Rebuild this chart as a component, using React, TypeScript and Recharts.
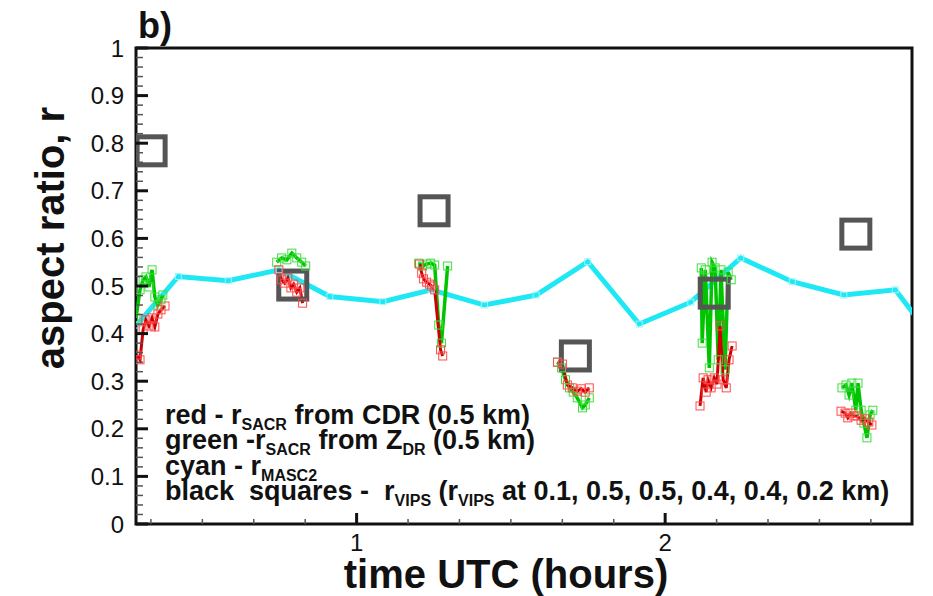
import { ComposedChart, Line, Scatter, XAxis, YAxis, ReferenceArea } from "recharts"

const X_MIN = 0.285
const X_MAX = 2.8
const FONT = "'Liberation Sans', Arial, Helvetica, sans-serif"

// x tick every 10 minutes, labels only on whole hours
const xTicks = [0.3333, 0.5, 0.6667, 0.8333, 1, 1.1667, 1.3333, 1.5, 1.6667, 1.8333, 2, 2.1667, 2.3333, 2.5, 2.6667]
const xLabels = [1, 2]
const yLabels = [0, 0.1, 0.2, 0.3, 0.4, 0.5, 0.6, 0.7, 0.8, 0.9, 1]
const yTicks = Array.from({ length: 51 }, (_, i) => i / 50)

// MASC2 aspect ratio (cyan), [time h, r]
const masc2 = [
  [0.287, 0.418], [0.422, 0.52], [0.584, 0.511], [0.749, 0.534], [0.913, 0.478],
  [1.085, 0.467], [1.242, 0.492], [1.414, 0.46], [1.582, 0.481], [1.749, 0.551],
  [1.916, 0.42], [2.083, 0.466], [2.245, 0.559], [2.412, 0.509], [2.579, 0.481],
  [2.746, 0.492], [2.913, 0.35],
]

// VIPS aspect ratio (grey squares)
const vips = [
  [0.334, 0.784], [0.793, 0.502], [1.251, 0.658], [1.709, 0.353], [2.159, 0.485], [2.618, 0.609],
]

// SACR from CDR (red), one run per radar scan period
const cdrRuns = [
  [[0.288, 0.355], [0.298, 0.345], [0.308, 0.408], [0.317, 0.429], [0.327, 0.416], [0.337, 0.433], [0.346, 0.414], [0.356, 0.441], [0.366, 0.45], [0.379, 0.458]],
  [[0.748, 0.534], [0.757, 0.513], [0.767, 0.506], [0.777, 0.517], [0.787, 0.496], [0.796, 0.504], [0.806, 0.487], [0.816, 0.496], [0.825, 0.464]],
  [[1.204, 0.546], [1.211, 0.527], [1.217, 0.515], [1.227, 0.508], [1.236, 0.504], [1.243, 0.5], [1.253, 0.492], [1.272, 0.366], [1.279, 0.353]],
  [[1.651, 0.34], [1.667, 0.336], [1.683, 0.292], [1.699, 0.286], [1.715, 0.279], [1.728, 0.284], [1.741, 0.277], [1.754, 0.286]],
  [[2.113, 0.248], [2.123, 0.307], [2.133, 0.277], [2.139, 0.303], [2.149, 0.286], [2.159, 0.307], [2.168, 0.294], [2.178, 0.416], [2.188, 0.303], [2.198, 0.286], [2.207, 0.345], [2.217, 0.374]],
  [[2.57, 0.237], [2.583, 0.233], [2.592, 0.223], [2.602, 0.233], [2.612, 0.227], [2.622, 0.227], [2.635, 0.218], [2.647, 0.221], [2.66, 0.214], [2.67, 0.208]],
]

// SACR from ZDR (green)
const zdrRuns = [
  [[0.285, 0.433], [0.298, 0.492], [0.308, 0.513], [0.317, 0.519], [0.327, 0.498], [0.337, 0.534], [0.346, 0.477], [0.356, 0.46], [0.366, 0.471], [0.372, 0.481]],
  [[0.741, 0.55], [0.757, 0.559], [0.774, 0.555], [0.79, 0.569], [0.806, 0.559], [0.822, 0.55], [0.835, 0.542]],
  [[1.201, 0.548], [1.214, 0.542], [1.227, 0.546], [1.24, 0.548], [1.253, 0.544], [1.266, 0.418], [1.275, 0.38], [1.295, 0.542]],
  [[1.651, 0.34], [1.664, 0.328], [1.677, 0.303], [1.69, 0.286], [1.702, 0.277], [1.715, 0.265], [1.732, 0.244], [1.741, 0.25], [1.754, 0.265]],
  [[2.117, 0.538], [2.12, 0.38], [2.13, 0.534], [2.143, 0.328], [2.152, 0.55], [2.162, 0.538], [2.172, 0.345], [2.181, 0.534], [2.194, 0.324], [2.204, 0.529], [2.214, 0.513]],
  [[2.573, 0.286], [2.586, 0.292], [2.596, 0.271], [2.605, 0.296], [2.618, 0.239], [2.625, 0.296], [2.635, 0.239], [2.644, 0.212], [2.654, 0.181], [2.664, 0.229], [2.673, 0.239]],
]

const toPoints = (run: number[][]) => run.map(([t, r]) => ({ t, r }))

const AXIS_GAP = 10
const near = (list: number[], v: number) => list.some((l) => Math.abs(l - v) < 1e-4)

function YTick(props: any) {
  const { x, y, payload } = props
  const ax = x + AXIS_GAP
  const major = near(yLabels, payload.value)
  return (
    <g>
      <line x1={ax} x2={ax + (major ? 12 : 7)} y1={y} y2={y} stroke={major ? "#111" : "#555"} strokeWidth={major ? 3 : 1.5} />
      {major && (
        <text x={ax - 12} y={y} dy="0.36em" textAnchor="end" fontSize={24} fontFamily={FONT} fill="#111">
          {String(Math.round(payload.value * 10) / 10)}
        </text>
      )}
    </g>
  )
}

function XTick(props: any) {
  const { x, y, payload } = props
  const ay = y - AXIS_GAP
  const major = near(xLabels, payload.value)
  return (
    <g>
      <line x1={x} x2={x} y1={ay} y2={ay - (major ? 11 : 5)} stroke={major ? "#111" : "#555"} strokeWidth={major ? 3 : 1.5} />
      {major && (
        <text x={x} y={ay + 27} textAnchor="middle" fontSize={24} fontFamily={FONT} fill="#111">
          {String(payload.value)}
        </text>
      )}
    </g>
  )
}

const boxDot = (color: string, size: number) => (p: any) => {
  if (p.cx == null || p.cy == null) return <g key={p.index} />
  return (
    <rect key={p.index} x={p.cx - size / 2} y={p.cy - size / 2} width={size} height={size} fill="none" stroke={color} strokeWidth={1} />
  )
}

const vipsShape = (p: any) => (
  <rect x={p.cx - 14} y={p.cy - 14} width={28} height={28} fill="none" stroke="#555" strokeWidth={5} />
)

const SUB = 16
const SUB_DY = 6

function Legend() {
  return (
    <g fontFamily={FONT} fontWeight="bold" fontSize={27} fill="#111">
      <text x={165} y={424} xmlSpace="preserve">
        red - r<tspan fontSize={SUB} dy={SUB_DY}>SACR</tspan><tspan dy={-SUB_DY}> from CDR (0.5 km)</tspan>
      </text>
      <text x={165} y={449} xmlSpace="preserve">
        green -r<tspan fontSize={SUB} dy={SUB_DY}>SACR</tspan><tspan dy={-SUB_DY}> from Z</tspan>
        <tspan fontSize={SUB} dy={SUB_DY}>DR</tspan><tspan dy={-SUB_DY}> (0.5 km)</tspan>
      </text>
      <text x={165} y={475} xmlSpace="preserve">
        cyan - r<tspan fontSize={SUB} dy={SUB_DY}>MASC2</tspan>
      </text>
      <text x={165} y={500} xmlSpace="preserve">
        {"black  squares -  r"}<tspan fontSize={SUB} dy={SUB_DY}>VIPS</tspan><tspan dy={-SUB_DY}> (r</tspan>
        <tspan fontSize={SUB} dy={SUB_DY}>VIPS</tspan><tspan dy={-SUB_DY}> at 0.1, 0.5, 0.5, 0.4, 0.4, 0.2 km)</tspan>
      </text>
    </g>
  )
}

export default function App() {
  return (
    <div style={{ position: "absolute", left: 0, top: 0, width: 933, height: 596, background: "#fff" }}>
      <ComposedChart width={933} height={596} margin={{ top: 48, right: 21, bottom: 42, left: 76 }}>
        <XAxis
          type="number"
          dataKey="t"
          domain={[X_MIN, X_MAX]}
          allowDataOverflow
          ticks={xTicks}
          interval={0}
          tickSize={0}
          tickMargin={AXIS_GAP}
          axisLine={false}
          tick={<XTick />}
          height={30}
        />
        <YAxis
          type="number"
          dataKey="r"
          domain={[0, 1]}
          ticks={yTicks}
          interval={0}
          tickSize={0}
          tickMargin={AXIS_GAP}
          axisLine={false}
          tick={<YTick />}
          width={60}
        />
        <ReferenceArea x1={X_MIN} x2={X_MAX} y1={0} y2={1} fill="none" stroke="#111" strokeWidth={3} />
        <Scatter data={toPoints(vips)} dataKey="r" shape={vipsShape} isAnimationActive={false} />
        <Line
          data={toPoints(masc2)}
          dataKey="r"
          stroke="#1de8f4"
          strokeWidth={5}
          dot={boxDot("#9ff4fa", 6)}
          isAnimationActive={false}
        />
        {zdrRuns.map((run, i) => (
          <Line
            key={`zdr${i}`}
            data={toPoints(run)}
            dataKey="r"
            stroke="#00c400"
            strokeWidth={3.5}
            dot={boxDot("#3ee03e", 8)}
            isAnimationActive={false}
          />
        ))}
        {cdrRuns.map((run, i) => (
          <Line
            key={`cdr${i}`}
            data={toPoints(run)}
            dataKey="r"
            stroke="#cc0000"
            strokeWidth={3}
            dot={boxDot("#ff4a4a", 8)}
            isAnimationActive={false}
          />
        ))}
      </ComposedChart>
      <svg width={933} height={596} style={{ position: "absolute", left: 0, top: 0, pointerEvents: "none" }}>
        <text x={138} y={38} fontFamily={FONT} fontWeight="bold" fontSize={36} fill="#111">b)</text>
        <text
          x={64}
          y={238}
          transform="rotate(-90 64 238)"
          textAnchor="middle"
          fontFamily={FONT}
          fontWeight="bold"
          fontSize={40}
          fill="#111"
        >
          aspect ratio, r
        </text>
        <text x={506} y={588} textAnchor="middle" fontFamily={FONT} fontWeight="bold" fontSize={40} fill="#111">
          time UTC (hours)
        </text>
        <Legend />
      </svg>
    </div>
  )
}
